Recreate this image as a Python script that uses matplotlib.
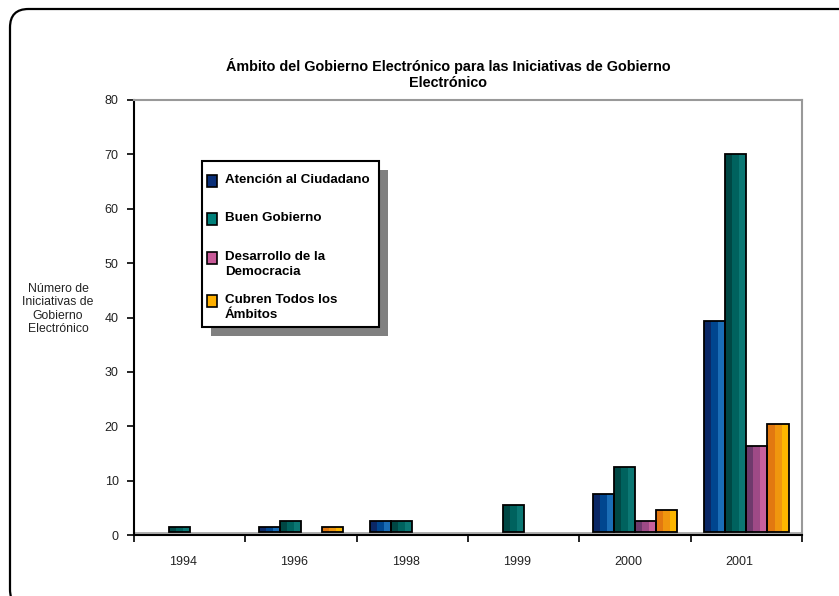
import matplotlib
matplotlib.use("Agg")
import matplotlib.pyplot as plt
from matplotlib.patches import FancyBboxPatch, Rectangle
import numpy as np

years = ["1994", "1996", "1998", "1999", "2000", "2001"]
series_names = ["Atención al Ciudadano", "Buen Gobierno", "Desarrollo de la\nDemocracia", "Cubren Todos los\nÁmbitos"]
atencion = [0, 1, 2, 0, 7, 39]
buen_gobierno = [1, 2, 2, 5, 12, 70]
desarrollo = [0, 0, 0, 0, 2, 16]
todos = [0, 1, 0, 0, 4, 20]
series = [atencion, buen_gobierno, desarrollo, todos]
y_ticks = [0, 10, 20, 30, 40, 50, 60, 70, 80]

shades = [
    ["#0b2866", "#00468f", "#1a6db6"],
    ["#004744", "#00625e", "#0b7773"],
    ["#6e3a6c", "#9e4a86", "#c8609c"],
    ["#e27810", "#f0960e", "#fcb600"],
]
legend_colors = ["#0a2f78", "#00807a", "#c85a98", "#ffb000"]

W, H = 839, 596
fig = plt.figure(figsize=(W / 100, H / 100), dpi=100)
fig.patch.set_facecolor("white")

# rounded frame
frame = FancyBboxPatch((10 / W, -0.02), (W + 20) / W, (H - 9) / H + 0.02,
                       boxstyle="round,pad=0,rounding_size=0.022",
                       transform=fig.transFigure, facecolor="none",
                       edgecolor="black", linewidth=1.6, mutation_aspect=W / H)
fig.add_artist(frame)

x0, x1, ytop, ybot = 134, 802, 100, 535
ax = fig.add_axes([x0 / W, 1 - ybot / H, (x1 - x0) / W, (ybot - ytop) / H])
ax.set_xlim(0, len(years))
ax.set_ylim(0, 80)

floor = 0.55
ymax = 80
bw = 0.19
start = 0.5 - 2 * bw
for si, vals in enumerate(series):
    for gi, v in enumerate(vals):
        if v <= 0:
            continue
        left = gi + start + si * bw
        h = v * (1 - floor / ymax)
        for k in range(3):
            ax.bar(left + k * bw / 3, h, width=bw / 3, bottom=floor, align="edge",
                   color=shades[si][k], edgecolor="none", zorder=2)
        ax.bar(left, h, width=bw, bottom=floor, align="edge", facecolor="none",
               edgecolor="black", linewidth=1.3, zorder=3)

# floor band
ax.axhspan(0, floor, color="#b0b0b0", zorder=1, lw=0)

for s in ["top", "right"]:
    ax.spines[s].set_color("#999999")
    ax.spines[s].set_linewidth(1.5)
for s in ["left", "bottom"]:
    ax.spines[s].set_color("black")
    ax.spines[s].set_linewidth(1.5)

ax.set_yticks(y_ticks)
ax.set_yticklabels([str(t) for t in y_ticks], fontsize=9, family="Liberation Sans", color="#222222")
ax.tick_params(axis="y", direction="out", length=5, width=1.2, pad=6)
ax.set_xticks(np.arange(len(years) + 1))
ax.set_xticklabels([])
ax.tick_params(axis="x", direction="out", length=5, width=1.2)
for i, y in enumerate(years):
    ax.text(i + 0.44, -3.9, y, ha="center", va="top", fontsize=9,
            family="Liberation Sans", color="#222222")

fig.text(448 / W, 1 - 74 / H,
         "Ámbito del Gobierno Electrónico para las Iniciativas de Gobierno\nElectrónico",
         ha="center", va="center", fontsize=10.4, fontweight="bold",
         family=["Liberation Sans Narrow", "Liberation Sans", "DejaVu Sans"],
         linespacing=1.1)

fig.text(58 / W, 1 - 309 / H, "Número de\nIniciativas de\nGobierno\nElectrónico",
         ha="center", va="center", fontsize=8.8, family="Liberation Sans",
         color="#222222", linespacing=1.15)

# legend with shadow
lx0, ly0, lx1, ly1 = 202, 161, 379, 327
sh = 9
fig.add_artist(Rectangle(((lx0 + sh) / W, 1 - (ly1 + sh) / H), (lx1 - lx0) / W, (ly1 - ly0) / H,
                         transform=fig.transFigure, facecolor="#808080", edgecolor="none", zorder=5))
fig.add_artist(Rectangle((lx0 / W, 1 - ly1 / H), (lx1 - lx0) / W, (ly1 - ly0) / H,
                         transform=fig.transFigure, facecolor="white", edgecolor="black",
                         linewidth=1.5, zorder=6))
rows = [181, 219, 258, 301]
for name, c, ry in zip(series_names, legend_colors, rows):
    fig.add_artist(Rectangle((207 / W, 1 - (ry + 6) / H), 10 / W, 12 / H,
                             transform=fig.transFigure, facecolor=c, edgecolor="black",
                             linewidth=1.2, zorder=7))
    fig.text(225 / W, 1 - (ry - 7) / H, name, ha="left", va="top", fontsize=9.6,
             fontweight="bold", family="Liberation Sans", zorder=8, linespacing=1.3)

fig.savefig("out.png", dpi=100, facecolor="white")
